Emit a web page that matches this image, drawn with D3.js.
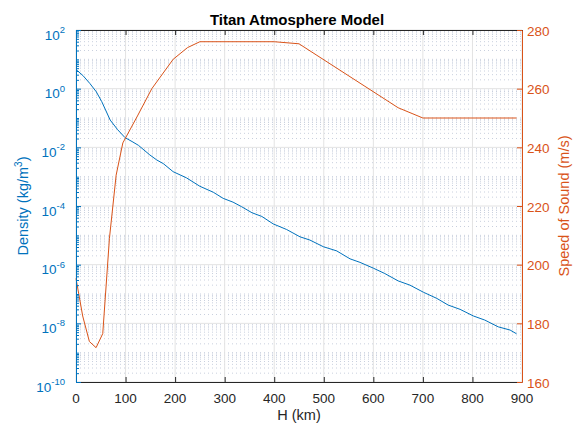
<!DOCTYPE html>
<html>
<head>
<meta charset="utf-8">
<script src="https://cdn.jsdelivr.net/npm/d3@7/dist/d3.min.js"></script>
<style>
	body { margin: 0; background: #ffffff; }
	text { font-family: "Liberation Sans", Arial, Helvetica, sans-serif; }
</style>
</head>
<body>
<div id="plot"></div>
<script>

// Density profile (left axis, log scale)
var densityAltitude = [0, 14, 28, 41, 52, 69, 84, 99, 113, 126, 149, 163, 176, 196, 223, 250, 277, 297, 317, 334,
	355, 375, 398, 425, 452, 472, 499, 526, 553, 573, 600, 623, 650, 674, 701, 728, 751, 775, 802, 825, 852, 876, 889];
var density = [4.5, 2.8, 1.5, 0.78, 0.36, 0.085, 0.040, 0.0214, 0.0158, 0.0117, 5.5e-3, 3.7e-3, 2.8e-3, 1.48e-3,
	9.1e-4, 4.7e-4, 2.95e-4, 1.82e-4, 1.35e-4, 9.5e-5, 5.9e-5, 4.4e-5, 2.45e-5, 1.58e-5, 8.9e-6, 6.9e-6, 4.1e-6,
	2.95e-6, 1.58e-6, 1.2e-6, 7.6e-7, 5.0e-7, 2.8e-7, 2.0e-7, 1.15e-7, 7.1e-8, 4.2e-8, 3.0e-8, 1.78e-8, 1.29e-8,
	7.6e-9, 5.9e-9, 4.4e-9];

// Speed of sound profile (right axis)
var soundAltitude = [0, 13.5, 27, 40.5, 54, 67.5, 81, 94.5, 125, 153, 196, 225, 250, 400, 450, 650, 700, 889];
var soundSpeed = [195.3, 182.5, 173.8, 171.7, 176.5, 209, 230.5, 241.5, 251, 260, 270, 274, 276, 276, 275.3, 253.5, 250, 250];

// Tick labels
var xTicks = [0, 100, 200, 300, 400, 500, 600, 700, 800, 900];
var densityExponents = [-10, -8, -6, -4, -2, 0, 2];
var soundTicks = [160, 180, 200, 220, 240, 260, 280];

var blue = "#0072BD", orange = "#D95319", darkGray = "#262626";

// Dimensions of the axes box
var margin = {top: 30, left: 76},
	width = 446,
	height = 352;

var svg = d3.select("#plot")
	.append("svg")
	.attr("width", 582)
	.attr("height", 427);

var g = svg.append("g")
	.attr("transform", "translate(" + margin.left + "," + margin.top + ")");

// Scales
var x = d3.scaleLinear().domain([0, 900]).range([0, width]);
var y = d3.scaleLog().domain([1e-10, 1e2]).range([height, 0]);
var y2 = d3.scaleLinear().domain([160, 280]).range([height, 0]);

// Minor tick values of the log axis: every m*10^e that is not a labelled decade
var majorValues = densityExponents.map(function(e){ return Math.pow(10, e); });
var minorValues = [];
for (var e = -10; e < 2; e++) {
	for (var m = 1; m <= 9; m++) {
		if (m == 1 && e % 2 == 0) continue;
		minorValues.push(m * Math.pow(10, e));
	}
}

// Minor grid (dotted, horizontal only)
g.append("g")
	.selectAll("line")
	.data(minorValues).enter()
	.append("line")
	.attr("x1", 0).attr("x2", width)
	.attr("y1", function(d){ return y(d); })
	.attr("y2", function(d){ return y(d); })
	.attr("stroke", "#c9d0de")
	.attr("stroke-width", 1)
	.attr("stroke-dasharray", "1,3");

// Major grid
g.append("g")
	.selectAll("line")
	.data(majorValues).enter()
	.append("line")
	.attr("x1", 0).attr("x2", width)
	.attr("y1", function(d){ return y(d); })
	.attr("y2", function(d){ return y(d); })
	.attr("stroke", "#e3e3e3")
	.attr("stroke-width", 1);
g.append("g")
	.selectAll("line")
	.data(xTicks).enter()
	.append("line")
	.attr("x1", function(d){ return x(d); })
	.attr("x2", function(d){ return x(d); })
	.attr("y1", 0).attr("y2", height)
	.attr("stroke", "#e3e3e3")
	.attr("stroke-width", 1);

// Curves
g.append("path")
	.datum(d3.zip(densityAltitude, density))
	.attr("fill", "none")
	.attr("stroke", blue)
	.attr("stroke-width", 1)
	.attr("d", d3.line()
		.x(function(d){ return x(d[0]); })
		.y(function(d){ return y(d[1]); }));

g.append("path")
	.datum(d3.zip(soundAltitude, soundSpeed))
	.attr("fill", "none")
	.attr("stroke", orange)
	.attr("stroke-width", 1)
	.attr("d", d3.line()
		.x(function(d){ return x(d[0]); })
		.y(function(d){ return y2(d[1]); }));

// Axes (ticks pointing inward)
function styleAxis(sel, color) {
	sel.selectAll("path").attr("stroke", color).attr("stroke-width", 1);
	sel.selectAll("line").attr("stroke", color).attr("stroke-width", 1);
	sel.selectAll("text").remove();
}

g.append("g")
	.attr("transform", "translate(0," + height + ")")
	.call(d3.axisBottom(x).tickValues(xTicks).tickSize(-5).tickSizeOuter(0).tickFormat(""))
	.call(styleAxis, darkGray);
g.append("g")
	.call(d3.axisTop(x).tickValues(xTicks).tickSize(-5).tickSizeOuter(0).tickFormat(""))
	.call(styleAxis, darkGray);
g.append("g")
	.call(d3.axisLeft(y).tickValues(minorValues).tickSize(-3).tickSizeOuter(0).tickFormat(""))
	.call(styleAxis, blue);
g.append("g")
	.call(d3.axisLeft(y).tickValues(majorValues).tickSize(-5).tickSizeOuter(0).tickFormat(""))
	.call(styleAxis, blue);
g.append("g")
	.attr("transform", "translate(" + width + ",0)")
	.call(d3.axisRight(y2).tickValues(soundTicks).tickSize(-5).tickSizeOuter(0).tickFormat(""))
	.call(styleAxis, orange);

// Tick labels
g.append("g")
	.selectAll("text")
	.data(xTicks).enter()
	.append("text")
	.attr("x", function(d){ return x(d); })
	.attr("y", height + 20.5)
	.attr("text-anchor", "middle")
	.style("font-size", "13.5px")
	.attr("fill", darkGray)
	.text(function(d){ return d; });

var yLabels = g.append("g")
	.selectAll("text")
	.data(densityExponents).enter()
	.append("text")
	.attr("x", -11)
	.attr("y", function(d){ return y(Math.pow(10, d)) + 9.5; })
	.attr("text-anchor", "end")
	.attr("fill", blue)
	.style("font-size", "13.5px");
yLabels.append("tspan").text("10");
yLabels.append("tspan")
	.attr("dy", -6.5)
	.style("font-size", "9.5px")
	.text(function(d){ return d; });

g.append("g")
	.selectAll("text")
	.data(soundTicks).enter()
	.append("text")
	.attr("x", width + 5)
	.attr("y", function(d){ return y2(d) + 5.5; })
	.attr("fill", orange)
	.style("font-size", "13.5px")
	.text(function(d){ return d; });

// Axis labels and title
svg.append("text")
	.attr("x", 297)
	.attr("y", 25)
	.attr("text-anchor", "middle")
	.attr("fill", "#000000")
	.style("font-size", "15px")
	.style("font-weight", "bold")
	.text("Titan Atmosphere Model");

svg.append("text")
	.attr("x", margin.left + width / 2)
	.attr("y", 420)
	.attr("text-anchor", "middle")
	.attr("fill", darkGray)
	.style("font-size", "14.5px")
	.text("H (km)");

var leftLabel = svg.append("text")
	.attr("transform", "translate(28," + (margin.top + height / 2) + ") rotate(-90)")
	.attr("text-anchor", "middle")
	.attr("fill", blue)
	.style("font-size", "14.5px");
leftLabel.append("tspan").text("Density (kg/m");
leftLabel.append("tspan").attr("dy", -6).style("font-size", "10px").text("3");
leftLabel.append("tspan").attr("dy", 6).text(")");

svg.append("text")
	.attr("transform", "translate(569," + (margin.top + height / 2) + ") rotate(-90)")
	.attr("text-anchor", "middle")
	.attr("fill", orange)
	.style("font-size", "14.5px")
	.text("Speed of Sound (m/s)");

</script>
</body>
</html>
